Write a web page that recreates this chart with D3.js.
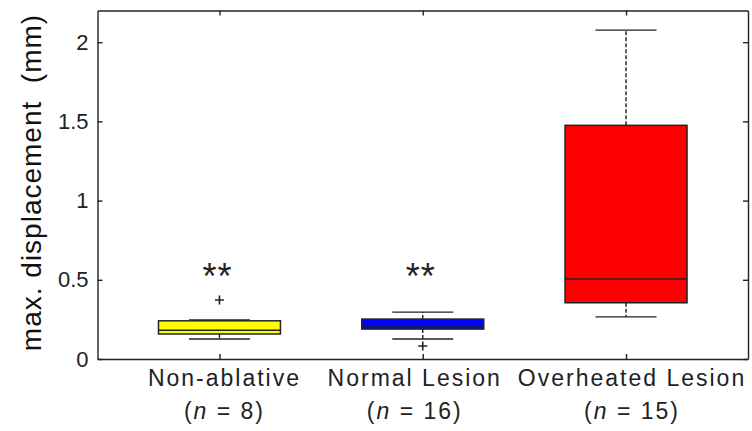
<!DOCTYPE html>
<html>
<head>
<meta charset="utf-8">
<script src="https://cdn.jsdelivr.net/npm/d3@7"></script>
<style>
  html, body { margin: 0; padding: 0; background: #fff; }
  svg { display: block; font-family: Arial, 'Liberation Sans', Helvetica, sans-serif; }
</style>
</head>
<body>
<div id="chart"></div>
<script>
// Box plot of max. displacement per lesion group

// Data
const groups = ['Non-ablative', 'Normal Lesion', 'Overheated Lesion']
const counts = [8, 16, 15]
const lowerWhisker = [0.126, 0.126, 0.266]
const q1 = [0.158, 0.189, 0.355]
const medians = [0.181, 0.208, 0.505]
const q3 = [0.241, 0.252, 1.475]
const upperWhisker = [0.246, 0.296, 2.076]
const outliers = [[0.372], [0.082], []]
const significance = ['**', '**', '']
const yTicks = [0, 0.5, 1, 1.5, 2]
const boxColors = ['#ffff00', '#0000ff', '#ff0000']

const width = 752
const height = 431
const margin = { top: 10.5, right: 4, bottom: 72, left: 97.5 }
const plotBottom = height - margin.bottom
const plotRight = width - margin.right

const svg = d3
  .select('#chart')
  .append('svg')
  .attr('width', width)
  .attr('height', height)

// Scales: categories sit at 1, 2, 3 (margins folded into the ranges)
const xScale = d3.scaleLinear().domain([0.4, 3.6]).range([margin.left, plotRight])
const yScale = d3.scaleLinear().domain([0, 2.2]).range([plotBottom, margin.top])

const boxHalf = 0.3
const capHalf = 0.15
const ink = '#222'

// Axes with inward ticks on all four sides
const tickLen = 5
svg.append('g')
  .attr('class', 'y-axis')
  .attr('transform', `translate(${margin.left},0)`)
  .call(d3.axisLeft(yScale).tickValues(yTicks).tickFormat(d3.format('~g')).tickSizeInner(-tickLen).tickSizeOuter(0).tickPadding(9))
svg.append('g')
  .attr('transform', `translate(${plotRight},0)`)
  .call(d3.axisRight(yScale).tickValues(yTicks).tickSizeInner(-tickLen).tickSizeOuter(0).tickFormat(''))
svg.append('g')
  .attr('transform', `translate(0,${plotBottom})`)
  .call(d3.axisBottom(xScale).tickValues([1, 2, 3]).tickSizeInner(-tickLen).tickSizeOuter(0).tickFormat(''))
svg.append('g')
  .attr('transform', `translate(0,${margin.top})`)
  .call(d3.axisTop(xScale).tickValues([1, 2, 3]).tickSizeInner(-tickLen).tickSizeOuter(0).tickFormat(''))

svg.selectAll('.domain, .tick line')
  .attr('stroke', ink)
  .attr('stroke-width', 1.4)

svg.select('.y-axis')
  .selectAll('text')
  .attr('font-size', 22)
  .attr('fill', ink)
  .attr('font-family', 'Arial, Liberation Sans, sans-serif')

// One group per box
const boxes = svg
  .selectAll('.box')
  .data(groups.map((name, i) => ({ i, name })))
  .join('g')
  .attr('class', 'box')

// Whiskers (dashed)
boxes
  .append('line')
  .attr('x1', (d) => xScale(d.i + 1))
  .attr('x2', (d) => xScale(d.i + 1))
  .attr('y1', (d) => yScale(q3[d.i]))
  .attr('y2', (d) => yScale(upperWhisker[d.i]))
  .attr('stroke', ink)
  .attr('stroke-width', 1.4)
  .attr('stroke-dasharray', '4,2')
boxes
  .append('line')
  .attr('x1', (d) => xScale(d.i + 1))
  .attr('x2', (d) => xScale(d.i + 1))
  .attr('y1', (d) => yScale(q1[d.i]))
  .attr('y2', (d) => yScale(lowerWhisker[d.i]))
  .attr('stroke', ink)
  .attr('stroke-width', 1.4)
  .attr('stroke-dasharray', '4,2')

// Whisker caps
;[upperWhisker, lowerWhisker].forEach((arr) => {
  boxes
    .append('line')
    .attr('x1', (d) => xScale(d.i + 1 - capHalf))
    .attr('x2', (d) => xScale(d.i + 1 + capHalf))
    .attr('y1', (d) => yScale(arr[d.i]))
    .attr('y2', (d) => yScale(arr[d.i]))
    .attr('stroke', ink)
    .attr('stroke-width', 1.4)
})

// Box from q1 to q3
boxes
  .append('rect')
  .attr('x', (d) => xScale(d.i + 1 - boxHalf))
  .attr('width', (d) => xScale(d.i + 1 + boxHalf) - xScale(d.i + 1 - boxHalf))
  .attr('y', (d) => yScale(q3[d.i]))
  .attr('height', (d) => yScale(q1[d.i]) - yScale(q3[d.i]))
  .attr('fill', (d) => boxColors[d.i])
  .attr('stroke', ink)
  .attr('stroke-width', 1.5)

// Median line
boxes
  .append('line')
  .attr('x1', (d) => xScale(d.i + 1 - boxHalf))
  .attr('x2', (d) => xScale(d.i + 1 + boxHalf))
  .attr('y1', (d) => yScale(medians[d.i]))
  .attr('y2', (d) => yScale(medians[d.i]))
  .attr('stroke', ink)
  .attr('stroke-width', 1.5)

// Outliers as '+' markers
boxes.each(function (d) {
  d3.select(this)
    .selectAll('.outlier')
    .data(outliers[d.i])
    .join('path')
    .attr('class', 'outlier')
    .attr('transform', (v) => `translate(${xScale(d.i + 1)},${yScale(v)})`)
    .attr('d', 'M-4.5,0H4.5M0,-4.5V4.5')
    .attr('stroke', ink)
    .attr('stroke-width', 1.6)
    .attr('fill', 'none')
})

// Significance stars
const starSize = 36
boxes
  .filter((d) => significance[d.i])
  .append('text')
  .attr('x', (d) => xScale(d.i + 1) - 2)
  .attr('y', yScale(0.58) + starSize * 0.6)
  .attr('text-anchor', 'middle')
  .attr('font-size', starSize)
  .attr('letter-spacing', 1)
  .attr('fill', ink)
  .text((d) => significance[d.i])

// Category labels below the axis
const labelNudge = [5, -8, 6]
const labelData = groups.map((name, i) => ({ i, name }))

svg.selectAll('.x-label')
  .data(labelData)
  .join('text')
  .attr('class', 'x-label')
  .attr('x', (d) => xScale(d.i + 1) + labelNudge[d.i])
  .attr('y', plotBottom + 27)
  .attr('text-anchor', 'middle')
  .attr('font-size', 23)
  .attr('letter-spacing', 2)
  .attr('fill', ink)
  .text((d) => d.name)

const counted = svg
  .selectAll('.n-label')
  .data(labelData)
  .join('text')
  .attr('class', 'n-label')
  .attr('x', (d) => xScale(d.i + 1) + labelNudge[d.i])
  .attr('y', plotBottom + 60)
  .attr('text-anchor', 'middle')
  .attr('font-size', 23)
  .attr('letter-spacing', 2)
  .attr('fill', ink)
counted.append('tspan').text('(')
counted.append('tspan').attr('font-style', 'italic').text('n')
counted.append('tspan').text((d) => ` = ${counts[d.i]})`)

// Y axis label (double space kept as in the original)
svg
  .append('text')
  .attr('transform', `translate(41,${margin.top + 172}) rotate(-90)`)
  .attr('text-anchor', 'middle')
  .attr('font-size', 28)
  .attr('letter-spacing', 1)
  .attr('fill', '#111')
  .style('white-space', 'pre')
  .text('max. displacement  (mm)')
</script>
</body>
</html>
